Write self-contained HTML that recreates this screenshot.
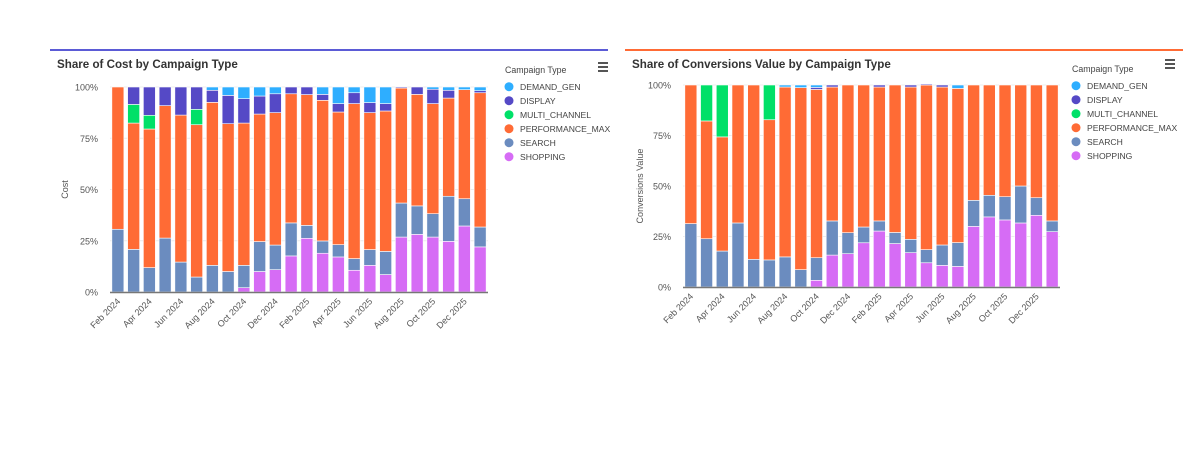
<!DOCTYPE html>
<html><head><meta charset="utf-8">
<style>
html,body{margin:0;padding:0;background:#fff;width:1200px;height:450px;overflow:hidden;font-family:"Liberation Sans",sans-serif;}
svg{position:absolute;left:0;top:0;}
</style></head>
<body>
<svg id="chart" width="1200" height="450" xmlns="http://www.w3.org/2000/svg"></svg>
<script>
const months = ["Feb 2024","Mar 2024","Apr 2024","May 2024","Jun 2024","Jul 2024","Aug 2024","Sep 2024","Oct 2024","Nov 2024","Dec 2024","Jan 2025","Feb 2025","Mar 2025","Apr 2025","May 2025","Jun 2025","Jul 2025","Aug 2025","Sep 2025","Oct 2025","Nov 2025","Dec 2025","Jan 2026"];
const seriesNames = ["SHOPPING","SEARCH","PERFORMANCE_MAX","MULTI_CHANNEL","DISPLAY","DEMAND_GEN"];
const seriesColors = ["#d66cf5","#6b8cbf","#ff6b35","#00e068","#5549c6","#2eaeff"];
const legendOrder = [5,4,3,2,1,0];
const yTicks = [0,25,50,75,100];
// Cost share (%)
const costShopping = [0,0,0,0,0,0,0,0,2.1,10,10.9,17.6,26.2,18.9,17.1,10.6,13,8.5,26.8,28.1,26.8,24.7,32.2,22];
const costSearch = [30.6,20.8,11.9,26.3,14.6,7.3,13,10,10.9,14.6,12,16.1,6.3,6,6,5.7,7.7,11.3,16.6,13.9,11.4,22,13.3,9.7];
const costPmax = [69.4,61.6,67.6,64.6,71.7,74.3,79.5,72.1,69.4,62.2,64.6,63,63.8,68.6,64.7,75.6,66.8,68.5,56.1,54.4,53.7,47.9,53.2,65.5];
const costMulti = [0,9.1,6.7,0,0,7.5,0,0,0,0,0,0,0,0,0,0,0,0,0,0,0,0,0,0];
const costDisplay = [0,8.5,13.8,9.1,13.7,10.9,5.9,13.8,11.9,8.8,9.2,3.3,3.7,2.9,4.1,5.3,4.9,3.6,0.5,3.6,7,3.8,0,1];
const costDemand = [0,0,0,0,0,0,1.6,4.1,5.7,4.4,3.3,0,0,3.6,8.1,2.8,7.6,8.1,0,0,1.1,1.6,1.3,1.8];
// Conversions value share (%)
const convShopping = [0,0,0,0,0,0,0,0,3.3,15.8,16.5,21.9,27.7,21.5,17,12,10.7,10.2,30,34.7,33.2,31.7,35.5,27.4];
const convSearch = [31.4,23.9,17.8,31.7,13.7,13.4,14.9,8.6,11.2,16.9,10.4,7.8,5,5.5,6.6,6.5,10.1,11.8,12.9,10.7,11.5,18.3,8.7,5.3];
const convPmax = [68.6,58.3,56.5,68.3,86.3,69.4,84.1,90.1,83.3,66.3,73.1,70.3,66.3,73,75.4,81.5,78.2,76.3,57.1,54.6,55.3,50,55.8,67.3];
const convMulti = [0,17.8,25.7,0,0,17.2,0,0,0,0,0,0,0,0,0,0,0,0,0,0,0,0,0,0];
const convDisplay = [0,0,0,0,0,0,0,0,1,1,0,0,1,0,1,0.5,1,0,0,0,0,0,0,0];
const convDemand = [0,0,0,0,0,0,1,1.3,1.2,0,0,0,0,0,0,0,0,1.7,0,0,0,0,0,0];

const NS="http://www.w3.org/2000/svg";
const svg=document.getElementById('chart');
function mk(tag,attrs,parent){const e=document.createElementNS(NS,tag);for(const k in attrs)e.setAttribute(k,attrs[k]);(parent||svg).appendChild(e);return e;}

function drawPanel(cfg){
  const g=mk('g',{});
  
  
  const line=mk('rect',{x:cfg.px,y:49,width:cfg.pw,height:2,fill:cfg.lineColor},g);
  
  
  const t=mk('text',{x:cfg.px+7,y:68,'font-size':11.6,'font-weight':'bold',fill:'#333'},g);
  t.textContent=cfg.title;
  
  
  const x0=cfg.x0,x1=cfg.x1,y0=cfg.y0,y1=cfg.y1;
  const n=months.length,band=(x1-x0)/n,bw=12;
  const yS=v=>y0-(v/100)*(y0-y1);
  const xS=i=>x0+band*i+band/2;
  yTicks.forEach(v=>{
    const gl=mk('line',{x1:x0,x2:x1,y1:yS(v),y2:yS(v),stroke:'#ececec','stroke-width':1},g);
    
    
    const tl=mk('text',{x:x0-12,y:yS(v)+3.5,'font-size':9,fill:'#555','text-anchor':'end'},g);
    tl.textContent=v+'%';
    
    
  });
  const yt=mk('text',{x:cfg.ytx,y:(y0+y1)/2,'font-size':9,fill:'#555','text-anchor':'middle',transform:`rotate(-90 ${cfg.ytx} ${(y0+y1)/2})`},g);
  yt.textContent=cfg.yTitle;
  
  
  for(let i=0;i<n;i++){
    let acc=0;
    cfg.series.forEach((arr,s)=>{
      const v=arr[i];if(v<=0)return;
      const yt2=yS(acc+v),yb=yS(acc);
      const r=mk('rect',{x:xS(i)-bw/2,y:yt2,width:bw,height:Math.max(0,yb-yt2),fill:seriesColors[s],stroke:'#fff','stroke-width':0.6},g);
      
      
      acc+=v;
    });
  }
  const ax=mk('line',{x1:x0,x2:x1,y1:y0+0.5,y2:y0+0.5,stroke:'#777','stroke-width':1.5},g);
  
  
  months.forEach((m,i)=>{
    if(i%2)return;
    const cx=xS(i)+3,cy=y0+10;
    const xl=mk('text',{x:cx,y:cy,'font-size':9,fill:'#555','text-anchor':'end',transform:`rotate(-45 ${cx} ${cy})`},g);
    xl.textContent=m;
    
    
  });
  const lt=mk('text',{x:cfg.lx,y:cfg.ly,'font-size':8.8,fill:'#444'},g);
  lt.textContent='Campaign Type';
  
  
  legendOrder.forEach((s,k)=>{
    const yy=cfg.ly+17+k*14;
    const c=mk('circle',{cx:cfg.lx+4,cy:yy-3.3,r:4.5,fill:seriesColors[s]},g);
    
    
    const lb=mk('text',{x:cfg.lx+15,y:yy,'font-size':8.6,fill:'#444'},g);
    lb.textContent=seriesNames[s];
    
    
  });
  const mg=mk('g',{},g);
  
  
  [0,4,8].forEach(d=>mk('rect',{x:cfg.mx,y:cfg.my+d,width:10,height:2,fill:'#555'},mg));
}

drawPanel({name:'cost-share-chart',px:50,pw:558,lineColor:'#5b5bd6',title:'Share of Cost by Campaign Type',
  x0:110,x1:488,y0:292,y1:87,ytx:68,yTitle:'Cost',lx:505,ly:73,mx:598,my:62,
  series:[costShopping,costSearch,costPmax,costMulti,costDisplay,costDemand]});
drawPanel({name:'conversions-value-share-chart',px:625,pw:558,lineColor:'#ff6b35',title:'Share of Conversions Value by Campaign Type',
  x0:683,x1:1060,y0:287,y1:85,ytx:643,yTitle:'Conversions Value',lx:1072,ly:72,mx:1165,my:59,
  series:[convShopping,convSearch,convPmax,convMulti,convDisplay,convDemand]});
</script>
</body></html>
